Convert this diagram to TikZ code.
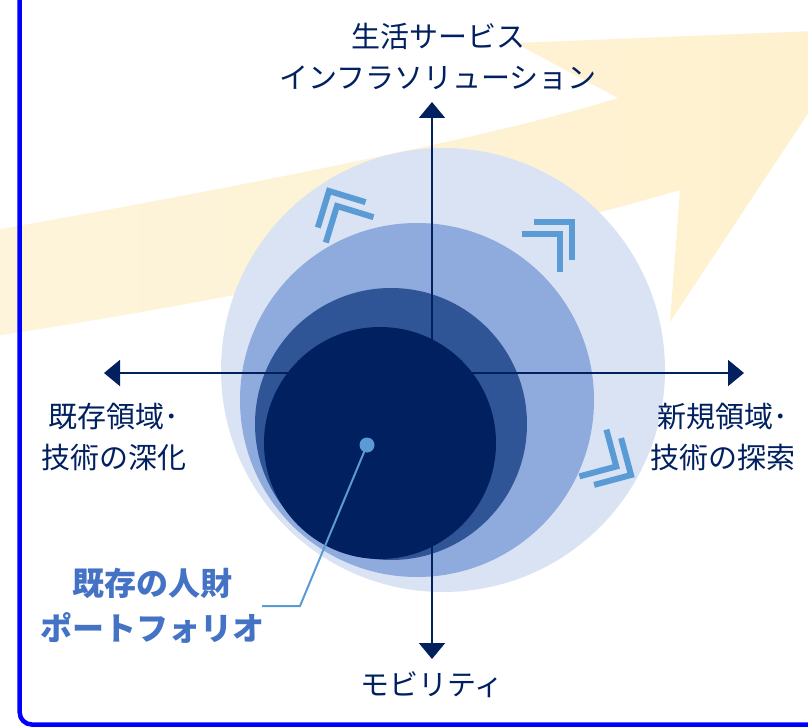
\documentclass[tikz,border=0pt]{standalone}
\usepackage{fontspec}
\newfontfamily\jpfont{Noto Sans CJK JP}
\usepackage{tikz}
\usetikzlibrary{positioning,arrows.meta}
\definecolor{navy}{RGB}{0,32,96}
\definecolor{ringA}{RGB}{218,227,243}
\definecolor{ringB}{RGB}{143,170,220}
\definecolor{ringC}{RGB}{47,85,151}
\definecolor{skyblue}{RGB}{91,155,213}
\definecolor{labelblue}{RGB}{68,114,196}
\definecolor{goldL}{RGB}{253,244,219}
\definecolor{goldR}{RGB}{254,241,206}
\definecolor{frameblue}{RGB}{0,0,255}

\begin{document}
\begin{tikzpicture}[x=1pt, y=-1pt,
    axis/.style={navy, line width=2pt,
      {Triangle[length=16pt,width=26pt]}-{Triangle[length=16pt,width=26pt]}},
    lab/.style={text=navy, align=center, inner sep=0pt,
      font=\jpfont\fontsize{29}{41}\selectfont},
    chevline/.style={skyblue, line width=6pt, line join=miter},
    chev/.pic={
      \draw[chevline] (-27,-27) -- (0,0) -- (-27,27);
      \draw[chevline] (-44,-27) -- (-17,0) -- (-44,27);
    }]
    \useasboundingbox (0,0) rectangle (808,727);
    \begin{scope}
      \clip (0,0) rectangle (808,727);
      \shade[left color=goldL, right color=goldR]
        (-5,230) .. controls (250,185) and (500,135) .. (618,98)
        -- (515,43) -- (864,29) -- (670,322) -- (680,190)
        .. controls (550,228) and (300,290) .. (-5,336) -- cycle;
    \end{scope}

    \fill[ringA] (443,370) circle[radius=222pt];
    \fill[ringB] (417,400) circle[radius=177pt];
    \fill[ringC] (391,424) circle[radius=136pt];
    \fill[navy] (380,443) circle[radius=116pt];

    \coordinate (o) at (432,373);
    \coordinate[above=271pt of o] (n);
    \coordinate[below=286pt of o] (s);
    \coordinate[left=328pt of o] (w);
    \coordinate[right=312pt of o] (e);
    \draw[axis] (s) -- (n);
    \draw[axis] (w) -- (e);

    \pic[rotate=118] at (329,191) {chev};
    \pic[rotate=45] at (572,222) {chev};
    \pic[rotate=-30] at (631,475) {chev};

    \node[lab, above=12pt of n, xshift=6pt] (top) {生活サービス\\インフラソリューション};
    \node[lab, below=12pt of s] (bottom) {モビリティ};
    \node[lab, below=30pt of w, xshift=10pt] (left) {既存領域･\\技術の深化};
    \node[lab, below=30pt of e, xshift=-21pt] (right) {新規領域･\\技術の探索};

    \fill[skyblue] (367,445) circle[radius=7.5pt] coordinate (dot);
    \node[text=labelblue, align=center, inner sep=0pt,
      font=\jpfont\bfseries\fontsize{32}{45}\selectfont] (pf) at (152,606)
      {既存の人財\\ポートフォリオ};
    \coordinate (bend) at (300,606);
    \draw[skyblue, line width=2pt] (dot) -- (bend) -- (262,606);

    \draw[frameblue, line width=4.5pt, rounded corners=12pt]
      (19.7,-10) -- (19.7,724.5) -- (830,724.5);
\end{tikzpicture}
\end{document}
